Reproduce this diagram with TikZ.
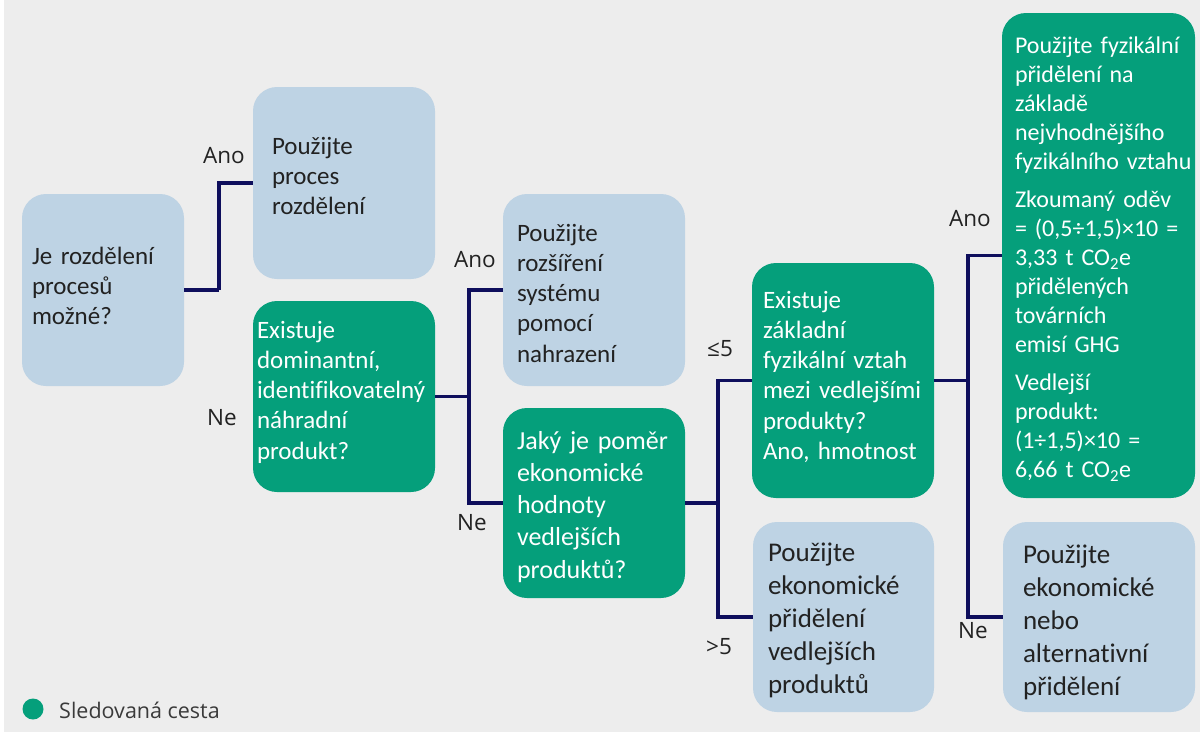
\documentclass[tikz,border=0pt]{standalone}
\usepackage{fontspec}
\setmainfont{Carlito}[Ligatures=NoCommon]
\newfontfamily\labelfont{Open Sans}

\definecolor{pagebg}{RGB}{237,237,237}
\definecolor{paleblue}{RGB}{190,211,228}
\definecolor{pathgreen}{RGB}{5,159,123}
\definecolor{linknavy}{RGB}{14,14,92}
\definecolor{darktext}{RGB}{34,34,34}

\tikzset{
  % the text block hangs from its first baseline; text depth sets where it sits
  box/.style={rectangle, rounded corners=24pt, anchor=north west,
    align=left, inner ysep=0pt, outer sep=0pt, text height=0pt},
  palebox/.style={box, fill=paleblue, text=darktext},
  greenbox/.style={box, fill=pathgreen, text=white},
  nohyph/.style={execute at begin node={\hyphenpenalty=10000\exhyphenpenalty=10000\hbadness=10000\hfuzz=40pt}},
  fs/.style={nohyph, font=\fontsize{25pt}{30.3pt}\selectfont},
  fsbig/.style={nohyph, font=\fontsize{26pt}{32.3pt}\selectfont},
  fsbigger/.style={nohyph, font=\fontsize{27pt}{33pt}\selectfont},
  fssmall/.style={nohyph, font=\fontsize{24pt}{29pt}\selectfont},
  conn/.style={draw=linknavy, line width=3.2pt, line join=miter},
  lbl/.style={font=\labelfont\fontsize{22.5pt}{26pt}\selectfont, text=darktext, inner sep=0pt},
}

\begin{document}
\begin{tikzpicture}[x=1pt,y=-1pt]
\useasboundingbox (0,0) rectangle (1200,732);
\fill[white] (0,0) rectangle (1200,732);
\fill[pagebg] (4,0) rectangle (1200,732);

% decision and outcome boxes
\node[palebox, fs, minimum width=162pt, minimum height=192pt, text width=142pt, inner xsep=10pt, text depth=52pt]
  (A) at (22,194) {Je rozdělení\\procesů\\možné?};
\node[palebox, fs, minimum width=182pt, minimum height=192pt, text width=144pt, inner xsep=19pt, text depth=58pt]
  (B) at (253,87) {Použijte\\proces\\rozdělení};
\node[greenbox, fs, minimum width=182pt, minimum height=191pt, text width=174pt, inner xsep=4pt, text depth=117pt]
  (C) at (253,301) {Existuje\\dominantní,\\identifikovatelný\\náhradní\\produkt?};
\node[palebox, fs, minimum width=182pt, minimum height=192pt, text width=154pt, inner xsep=14pt, text depth=98pt]
  (D) at (503,194) {Použijte\\rozšíření\\systému\\pomocí\\nahrazení};
\node[greenbox, fsbig, minimum width=182pt, minimum height=190pt, text width=154pt, inner xsep=14pt, text depth=108pt]
  (E) at (503,408) {Jaký je poměr\\ekonomické\\hodnoty\\vedlejších\\produktů?};
\node[greenbox, fs, minimum width=182pt, minimum height=235pt, text width=160pt, inner xsep=11pt, text depth=145pt]
  (F) at (752,263) {Existuje\\základní\\fyzikální vztah\\mezi vedlejšími\\produkty?\\Ano, hmotnost};
\node[palebox, fsbigger, minimum width=181pt, minimum height=190pt, text width=151pt, inner xsep=15pt, text depth=112pt]
  (G) at (753,522) {Použijte\\ekonomické\\přidělení\\vedlejších\\produktů};
\node[greenbox, fssmall, minimum width=193pt, minimum height=485pt, text width=167pt, inner xsep=13pt, text depth=404pt]
  (H) at (1002,13) {Použijte~fyzikální\\přidělení na\\základě\\nejvhodnějšího\\fyzikálního~vztahu\\[9pt]
    Zkoumaný oděv\\= (0,5÷1,5)×10 =\\3,33 t CO\textsubscript{2}e\\přidělených\\továrních\\emisí GHG\\[9pt]
    Vedlejší\\produkt:\\(1÷1,5)×10 =\\6,66 t CO\textsubscript{2}e};
\node[palebox, fsbigger, minimum width=192pt, minimum height=190pt, text width=152pt, inner xsep=20pt, text depth=108pt]
  (I) at (1003,522) {Použijte\\ekonomické\\nebo\\alternativní\\přidělení};

% branching connectors
\draw[conn] (A.east) -- ++(35,0) coordinate (jA);
\draw[conn] (jA) |- (B.west);

\draw[conn] (C.east) -- ++(34,0) coordinate (jC);
\draw[conn] (D.west) -| (jC) |- (E.west);

\draw[conn] (E.east) -- ++(33,0) coordinate (jE);
\draw[conn] (F.west) -| (jE) |- (G.west);

\draw[conn] (F.east) -- ++(34,0) coordinate (jF);
\draw[conn] (H.west) -| (jF) |- (I.west);

% branch labels
\node[lbl] (lAB) at (224,156) {Ano};
\node[lbl] (lAC) at (222,418) {Ne};
\node[lbl] (lCD) at (475,260) {Ano};
\node[lbl] (lCE) at (472,523) {Ne};
\node[lbl] (lEF) at (720,349) {≤5};
\node[lbl] (lEG) at (719,647) {>5};
\node[lbl] (lFH) at (970,219) {Ano};
\node[lbl] (lFI) at (973,631) {Ne};

% legend
\node[circle, fill=pathgreen, minimum size=21pt, inner sep=0pt] (dot) at (33,709) {};
\node[font=\labelfont\fontsize{21.5pt}{25pt}\selectfont, text={rgb,255:red,58;green,58;blue,58},
  anchor=west, inner sep=0pt] (legend) at (59,710) {Sledovaná cesta};
\end{tikzpicture}
\end{document}
